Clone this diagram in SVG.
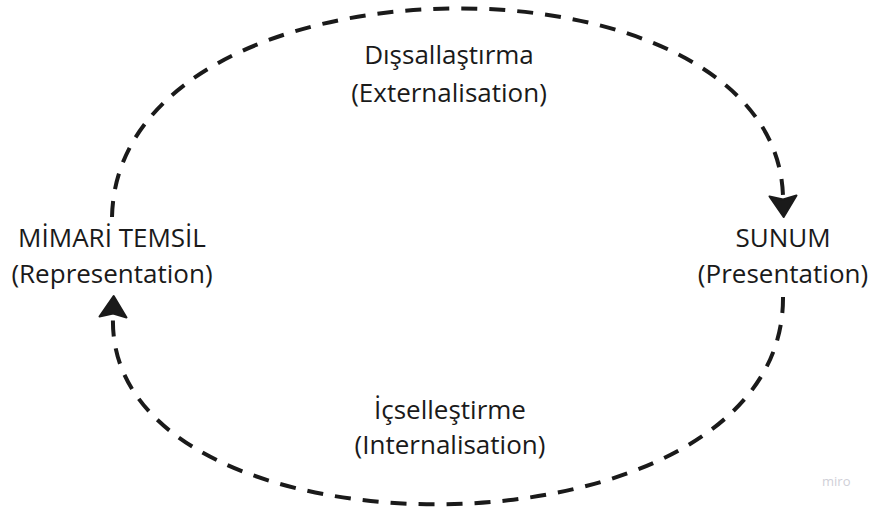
<svg xmlns="http://www.w3.org/2000/svg" width="874" height="511" viewBox="0 0 874 511">
  <style>
    .lbl { font-family: "Open Sans", "Noto Sans", "Liberation Sans", sans-serif; font-size: 26px; fill: #1a1a1a; text-anchor: middle; }
    .flow { fill: none; stroke: #1a1a1a; stroke-width: 4; stroke-dasharray: 16 12; }
    .brand { font-family: "Open Sans", "Liberation Sans", sans-serif; font-size: 13px; fill: #cfcfd7; }
  </style>
  <defs>
    <marker id="head" markerUnits="userSpaceOnUse" viewBox="-2 -16 26 32" markerWidth="26" markerHeight="32" refX="0" refY="0" orient="auto">
      <path d="M0,-13.5 L21,0 L0,13.5 L3.5,0 Z" fill="#1a1a1a" stroke="#1a1a1a" stroke-width="2" stroke-linejoin="round"/>
    </marker>
  </defs>
  <rect width="874" height="511" fill="#ffffff"/>

  <!-- connectors -->
  <g id="connectors">
    <path id="externalisation" class="flow" d="M112,217 C118,-55 775,-60 783,196" marker-end="url(#head)"/>
    <path id="internalisation" class="flow" d="M783,297 C785,570 105,570 113,317" marker-end="url(#head)"/>
  </g>

  <!-- edge labels -->
  <g id="label-externalisation">
    <text class="lbl" x="449" y="64">Dışsallaştırma</text>
    <text class="lbl" x="449" y="102">(Externalisation)</text>
  </g>
  <g id="label-internalisation">
    <text class="lbl" x="450" y="419">İçselleştirme</text>
    <text class="lbl" x="450" y="454">(Internalisation)</text>
  </g>

  <!-- nodes -->
  <g id="node-representation">
    <text class="lbl" x="112" y="247">MİMARİ TEMSİL</text>
    <text class="lbl" x="112" y="283">(Representation)</text>
  </g>
  <g id="node-presentation">
    <text class="lbl" x="783" y="247">SUNUM</text>
    <text class="lbl" x="783" y="283">(Presentation)</text>
  </g>

  <text class="brand" x="822" y="486">miro</text>
</svg>
